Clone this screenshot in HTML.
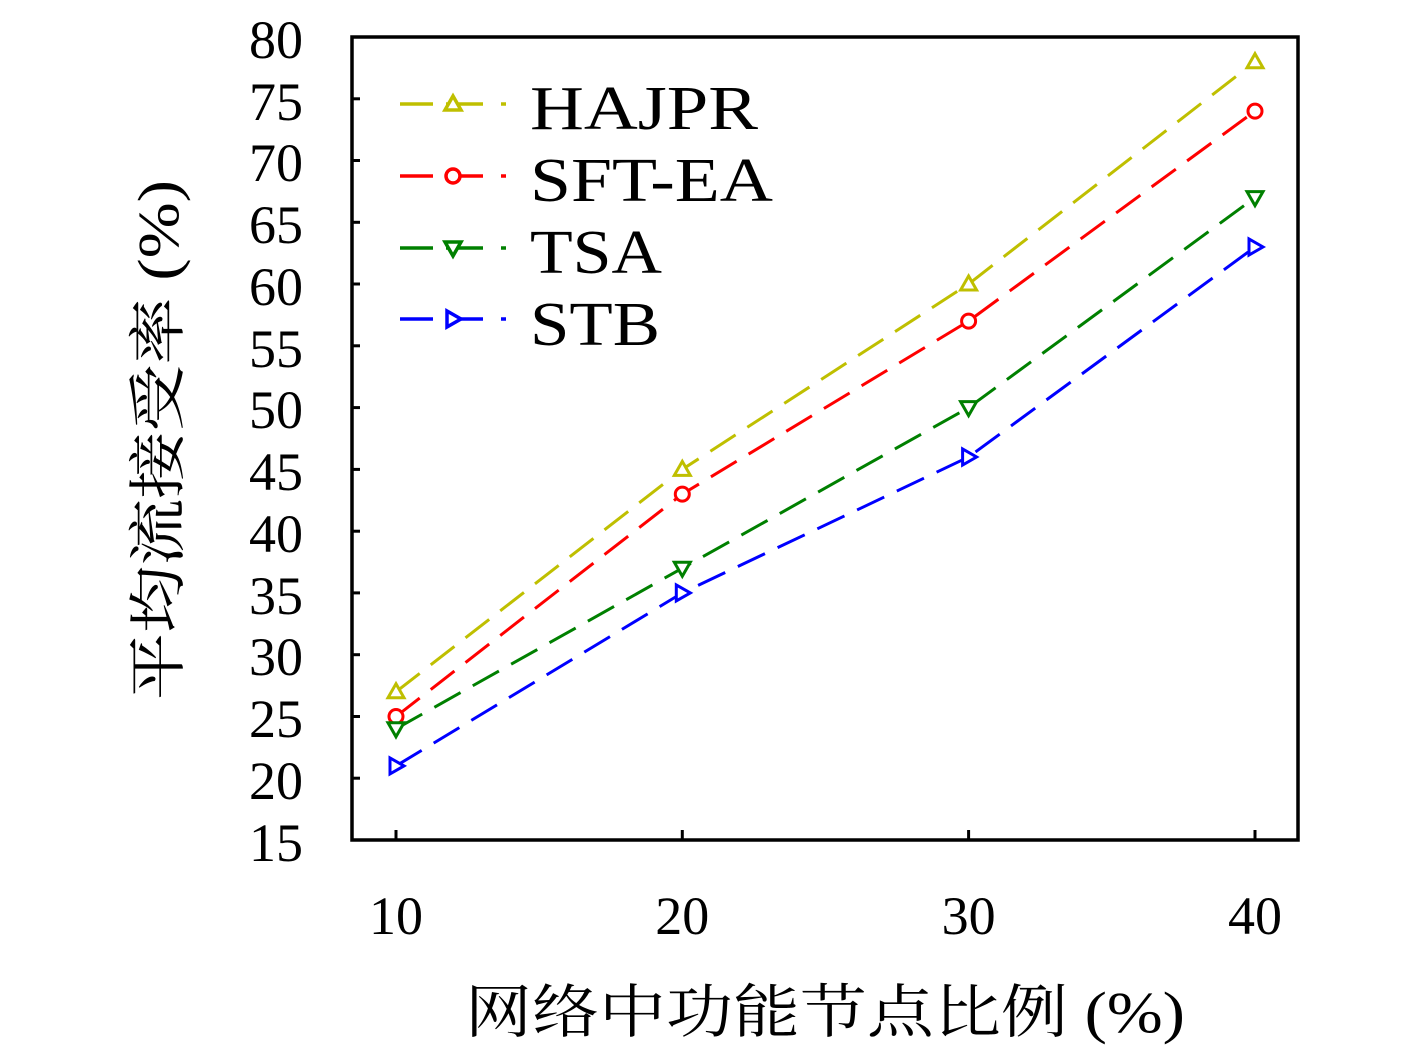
<!DOCTYPE html>
<html><head><meta charset="utf-8"><style>body{margin:0;background:#fff}</style></head><body>
<svg width="1417" height="1054" xmlns="http://www.w3.org/2000/svg" font-family="Liberation Serif, 'Noto Serif CJK SC', serif">
<rect width="1417" height="1054" fill="#fff"/>
<g stroke="#000" stroke-width="3">
<line x1="352" y1="98.8" x2="360" y2="98.8"/><line x1="352" y1="160.5" x2="360" y2="160.5"/><line x1="352" y1="222.3" x2="360" y2="222.3"/><line x1="352" y1="284" x2="360" y2="284"/><line x1="352" y1="345.8" x2="360" y2="345.8"/><line x1="352" y1="407.6" x2="360" y2="407.6"/><line x1="352" y1="469.4" x2="360" y2="469.4"/><line x1="352" y1="531.2" x2="360" y2="531.2"/><line x1="352" y1="592.9" x2="360" y2="592.9"/><line x1="352" y1="654.7" x2="360" y2="654.7"/><line x1="352" y1="716.5" x2="360" y2="716.5"/><line x1="352" y1="778.2" x2="360" y2="778.2"/>
<line x1="396" y1="840" x2="396" y2="830"/><line x1="682.3" y1="840" x2="682.3" y2="830"/><line x1="968.6" y1="840" x2="968.6" y2="830"/><line x1="1255" y1="840" x2="1255" y2="830"/>
</g>
<rect x="352" y="37" width="946" height="803" fill="none" stroke="#000" stroke-width="3.5"/>
<g fill="none" stroke-width="3" stroke-dasharray="30 14">
<polyline stroke="#bfbf00" points="396,691.8 682.3,469.4 968.6,284 1255,61.7"/>
<polyline stroke="#ff0000" points="396,716.5 682.3,494.1 968.6,321.1 1255,111.1"/>
<polyline stroke="#008000" points="396,728.8 682.3,568.2 968.6,407.6 1255,197.6"/>
<polyline stroke="#0000ff" points="396,765.9 682.3,592.9 968.6,457 1255,247"/>
</g>
<defs>
<path id="tu" d="M0,-8 L8,6 L-8,6 Z"/>
<path id="td" d="M0,8 L8,-6 L-8,-6 Z"/>
<path id="tr" d="M8,0 L-6,8 L-6,-8 Z"/>
</defs>
<g fill="#fff" stroke-width="3">
<g stroke="#bfbf00"><use href="#tu" x="396" y="691.8"/><use href="#tu" x="682.3" y="469.4"/><use href="#tu" x="968.6" y="284"/><use href="#tu" x="1255" y="61.7"/></g>
<g stroke="#ff0000"><circle cx="396" cy="716.5" r="7"/><circle cx="682.3" cy="494.1" r="7"/><circle cx="968.6" cy="321.1" r="7"/><circle cx="1255" cy="111.1" r="7"/></g>
<g stroke="#008000"><use href="#td" x="396" y="728.8"/><use href="#td" x="682.3" y="568.2"/><use href="#td" x="968.6" y="407.6"/><use href="#td" x="1255" y="197.6"/></g>
<g stroke="#0000ff"><use href="#tr" x="396" y="765.9"/><use href="#tr" x="682.3" y="592.9"/><use href="#tr" x="968.6" y="457"/><use href="#tr" x="1255" y="247"/></g>
</g>
<g stroke-width="3.5">
<g stroke="#bfbf00"><line x1="400" y1="104" x2="433" y2="104"/><line x1="446" y1="104" x2="483" y2="104"/><line x1="501" y1="104" x2="506" y2="104"/><use href="#tu" x="453" y="104" fill="#fff"/></g>
<g stroke="#f00"><line x1="400" y1="176" x2="433" y2="176"/><line x1="460" y1="176" x2="483" y2="176"/><line x1="501" y1="176" x2="506" y2="176"/><circle cx="453" cy="176" r="7" fill="#fff"/></g>
<g stroke="#008000"><line x1="400" y1="248" x2="433" y2="248"/><line x1="446" y1="248" x2="483" y2="248"/><line x1="501" y1="248" x2="506" y2="248"/><use href="#td" x="453" y="248" fill="#fff"/></g>
<g stroke="#00f"><line x1="400" y1="319" x2="433" y2="319"/><line x1="446" y1="319" x2="483" y2="319"/><line x1="501" y1="319" x2="506" y2="319"/><use href="#tr" x="453" y="319" fill="#fff"/></g>
</g>
<g font-size="62" fill="#000">
<text x="530" y="129" textLength="228" lengthAdjust="spacingAndGlyphs">HAJPR</text>
<text x="530" y="201" textLength="243" lengthAdjust="spacingAndGlyphs">SFT-EA</text>
<text x="530" y="273" textLength="132" lengthAdjust="spacingAndGlyphs">TSA</text>
<text x="530" y="345" textLength="130" lengthAdjust="spacingAndGlyphs">STB</text>
</g>
<g font-size="54" text-anchor="end" fill="#000">
<text x="303" y="58">80</text><text x="303" y="120">75</text><text x="303" y="181">70</text><text x="303" y="243">65</text><text x="303" y="305">60</text><text x="303" y="367">55</text><text x="303" y="428">50</text><text x="303" y="490">45</text><text x="303" y="552">40</text><text x="303" y="614">35</text><text x="303" y="675">30</text><text x="303" y="737">25</text><text x="303" y="799">20</text><text x="303" y="861">15</text>
</g>
<g font-size="54" text-anchor="middle" fill="#000">
<text x="396" y="934">10</text><text x="682.3" y="934">20</text><text x="968.6" y="934">30</text><text x="1255" y="934">40</text>
</g>
<text x="465" y="1032" font-size="58" textLength="720" lengthAdjust="spacingAndGlyphs">网络中功能节点比例 (%)</text>
<text transform="translate(178,700) rotate(-90)" font-size="58" textLength="520" lengthAdjust="spacingAndGlyphs">平均流接受率 (%)</text>
</svg>
</body></html>
